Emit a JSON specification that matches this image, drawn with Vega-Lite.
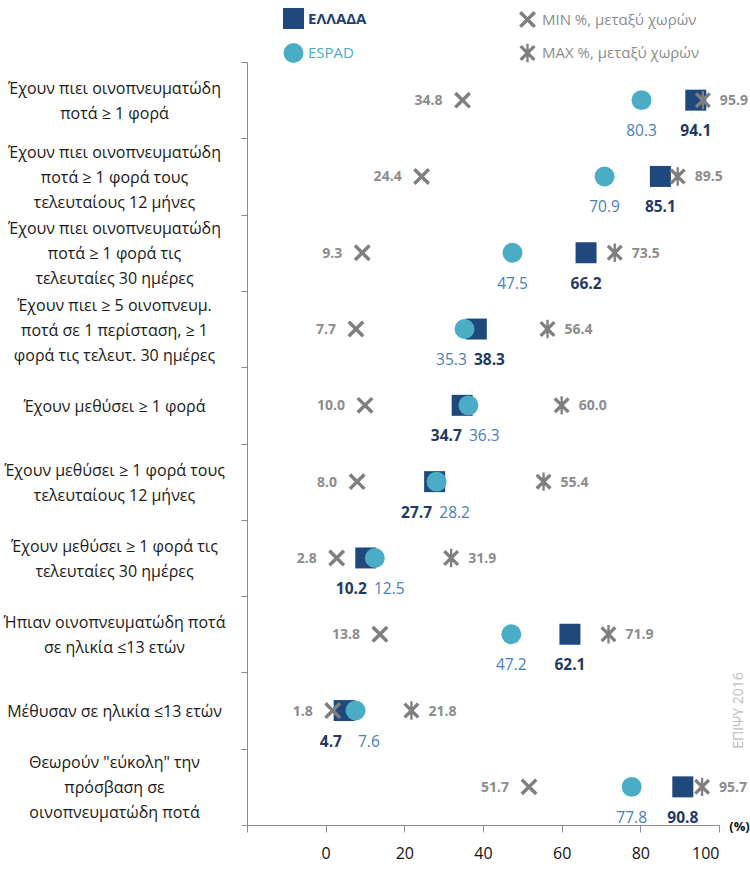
{
  "$schema": "https://vega.github.io/schema/vega-lite/v6.json",
  "width": 472,
  "height": 763,
  "autosize": {"type": "none"},
  "padding": {"left": 247, "top": 62, "right": 31, "bottom": 49},
  "background": "white",
  "config": {"view": {"stroke": null}, "font": "Open Sans"},
  "data": {
    "values": [
      {"cat": "Έχουν πιει οινοπνευματώδη|ποτά ≥ 1 φορά", "greece": 94.1, "espad": 80.3, "min": 34.8, "max": 95.9},
      {"cat": "Έχουν πιει οινοπνευματώδη|ποτά ≥ 1 φορά τους|τελευταίους 12 μήνες", "greece": 85.1, "espad": 70.9, "min": 24.4, "max": 89.5},
      {"cat": "Έχουν πιει οινοπνευματώδη|ποτά ≥ 1 φορά τις|τελευταίες 30 ημέρες", "greece": 66.2, "espad": 47.5, "min": 9.3, "max": 73.5},
      {"cat": "Έχουν πιει ≥ 5 οινοπνευμ.|ποτά σε 1 περίσταση, ≥ 1|φορά τις τελευτ. 30 ημέρες", "greece": 38.3, "espad": 35.3, "min": 7.7, "max": 56.4},
      {"cat": "Έχουν μεθύσει ≥ 1 φορά", "greece": 34.7, "espad": 36.3, "min": 10.0, "max": 60.0},
      {"cat": "Έχουν μεθύσει ≥ 1 φορά τους|τελευταίους 12 μήνες", "greece": 27.7, "espad": 28.2, "min": 8.0, "max": 55.4},
      {"cat": "Έχουν μεθύσει ≥ 1 φορά τις|τελευταίες 30 ημέρες", "greece": 10.2, "espad": 12.5, "min": 2.8, "max": 31.9},
      {"cat": "Ήπιαν οινοπνευματώδη ποτά|σε ηλικία ≤13 ετών", "greece": 62.1, "espad": 47.2, "min": 13.8, "max": 71.9},
      {"cat": "Μέθυσαν σε ηλικία  ≤13 ετών", "greece": 4.7, "espad": 7.6, "min": 1.8, "max": 21.8},
      {"cat": "Θεωρούν \"εύκολη\" την|πρόσβαση σε|οινοπνευματώδη ποτά", "greece": 90.8, "espad": 77.8, "min": 51.7, "max": 95.7}
    ]
  },
  "transform": [{"fold": ["greece", "espad", "min", "max"], "as": ["series", "value"]}],
  "encoding": {
    "x": {
      "field": "value", "type": "quantitative", "title": "(%)",
      "scale": {"domain": [-20, 100], "nice": false, "zero": false},
      "axis": {
        "values": [-20, 0, 20, 40, 60, 80, 100],
        "labelExpr": "datum.value < 0 ? '' : datum.label",
        "grid": false, "domainColor": "#8c8c8c", "tickColor": "#8c8c8c", "tickSize": 7,
        "labelFontSize": 16, "labelColor": "#111111", "labelPadding": 13, "labelFont": "Open Sans",
        "titleX": 492, "titleY": 1, "titleAlign": "center", "titleBaseline": "middle",
        "titleFontSize": 13, "titleFontWeight": "bold", "titleColor": "#111111", "titleFont": "Open Sans"
      }
    },
    "y": {
      "field": "cat", "type": "nominal", "sort": null, "title": null,
      "scale": {"type": "band", "paddingInner": 0, "paddingOuter": 0},
      "axis": {
        "tickBand": "extent", "labelExpr": "split(datum.label, '|')",
        "labelAlign": "center", "labelBaseline": "middle", "labelPadding": 127,
        "labelOffset": {"expr": "-(length(split(datum.value, '|')) - 1) * 12.5 + 1"},
        "labelFontSize": 16, "labelLineHeight": 25, "labelLimit": 0, "labelColor": "#1a1a1a",
        "labelFont": "Open Sans",
        "domainColor": "#8c8c8c", "tickColor": "#8c8c8c", "tickSize": 6
      }
    }
  },
  "layer": [
    {
      "mark": {"type": "point", "filled": true, "opacity": 1, "strokeWidth": 0},
      "encoding": {
        "color": {
          "field": "series", "type": "nominal",
          "scale": {"domain": ["greece", "min", "espad", "max"], "range": ["#1f497d", "#7f7f7f", "#4bacc6", "#7f7f7f"]},
          "legend": {
            "title": null, "orient": "none", "legendX": 36, "legendY": -54, "columns": 2, "direction": "horizontal",
            "symbolSize": 150, "symbolStrokeWidth": 0, "labelFontSize": 15, "labelFont": "Open Sans",
            "labelLimit": 300, "rowPadding": 14, "columnPadding": 150, "padding": 0,
            "labelExpr": "datum.value == 'greece' ? 'ΕΛΛΑΔΑ' : datum.value == 'espad' ? 'ESPAD' : datum.value == 'min' ? 'MIN %, μεταξύ χωρών' : 'MAX %, μεταξύ χωρών'",
            "labelColor": {"expr": "datum.value == 'greece' ? '#1f3f6e' : datum.value == 'espad' ? '#4bacc6' : '#8c8c8c'"},
            "labelFontWeight": {"expr": "datum.value == 'greece' ? 'bold' : 'normal'"}
          }
        },
        "shape": {
          "field": "series", "type": "nominal",
          "scale": {
            "domain": ["greece", "min", "espad", "max"],
            "range": [
              "square",
              "M0.587,-0.827L0.827,-0.587L0.24,0L0.827,0.587L0.587,0.827L0,0.24L-0.587,0.827L-0.827,0.587L-0.24,0L-0.827,-0.587L-0.587,-0.827L0,-0.24Z",
              "circle",
              "M0.587,-0.827L0.827,-0.587L0.24,0L0.827,0.587L0.587,0.827L0,0.24L-0.587,0.827L-0.827,0.587L-0.24,0L-0.827,-0.587L-0.587,-0.827L0,-0.24ZM-0.12,-0.95L0.12,-0.95L0.12,0.95L-0.12,0.95Z"
            ]
          }
        },
        "size": {
          "field": "series", "type": "nominal",
          "scale": {"domain": ["greece", "min", "espad", "max"], "range": [441, 376, 289, 390]},
          "legend": null
        }
      }
    },
    {
      "transform": [{"filter": "datum.series == 'greece'"}],
      "mark": {
        "type": "text", "baseline": "alphabetic", "align": "center", "dy": 36,
        "dx": {"expr": "abs(datum.greece - datum.espad) < 6 ? (datum.espad - datum.greece) * 1.97 + (datum.greece < datum.espad ? -19 : 19) : 0"},
        "fontSize": 15.5, "fontWeight": "bold", "color": "#1f3864", "font": "Open Sans"
      },
      "encoding": {"text": {"field": "value", "type": "quantitative", "format": ".1f"}}
    },
    {
      "transform": [{"filter": "datum.series == 'espad'"}],
      "mark": {
        "type": "text", "baseline": "alphabetic", "align": "center", "dy": 36,
        "dx": {"expr": "abs(datum.greece - datum.espad) < 6 ? (datum.greece - datum.espad) * 1.97 + (datum.espad < datum.greece ? -19 : 19) : 0"},
        "fontSize": 15.5, "color": "#4a7ebb", "font": "Open Sans"
      },
      "encoding": {"text": {"field": "value", "type": "quantitative", "format": ".1f"}}
    },
    {
      "transform": [{"filter": "datum.series == 'min'"}],
      "mark": {"type": "text", "baseline": "alphabetic", "align": "right", "dx": -20, "dy": 5, "fontSize": 14, "fontWeight": "bold", "color": "#8c8c8c", "font": "Open Sans"},
      "encoding": {"text": {"field": "value", "type": "quantitative", "format": ".1f"}}
    },
    {
      "transform": [{"filter": "datum.series == 'max'"}],
      "mark": {"type": "text", "baseline": "alphabetic", "align": "left", "dx": 17, "dy": 5, "fontSize": 14, "fontWeight": "bold", "color": "#8c8c8c", "font": "Open Sans"},
      "encoding": {"text": {"field": "value", "type": "quantitative", "format": ".1f"}}
    },
    {
      "transform": [{"filter": "datum.series == 'greece' && datum.greece == 4.7"}],
      "mark": {"type": "text", "angle": 270, "align": "center", "baseline": "middle", "fontSize": 14, "color": "#bdbdbd", "font": "Open Sans"},
      "encoding": {
        "x": {"datum": 105, "type": "quantitative"},
        "text": {"value": "ΕΠΙΨΥ 2016"}
      }
    }
  ]
}
